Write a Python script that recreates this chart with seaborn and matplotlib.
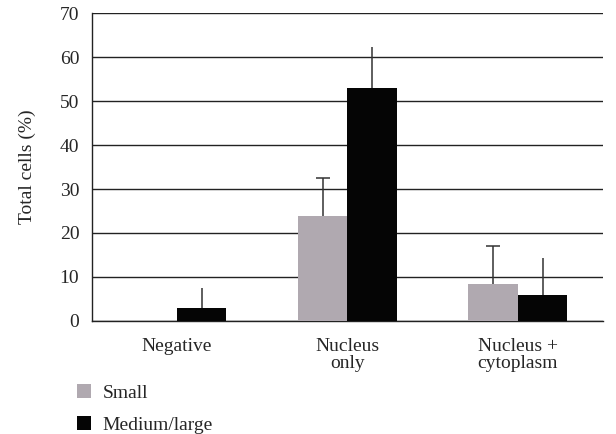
import pandas as pd
import numpy as np
import matplotlib
matplotlib.use("Agg")
import matplotlib.pyplot as plt
import seaborn as sns
from matplotlib.patches import Patch

# Values
categories = ["Negative", "Nucleus\nonly", "Nucleus +\ncytoplasm"]
sizes = ["Small", "Medium/large"]
small_vals = [0.0, 23.8, 8.5]
small_err = [0.0, 8.8, 8.5]
medium_vals = [3.0, 53.0, 6.0]
medium_err = [4.5, 9.2, 8.3]

colors = ["#b0a9b0", "#050505"]

df = pd.DataFrame({
    "category": categories * 2,
    "size": [sizes[0]] * 3 + [sizes[1]] * 3,
    "value": small_vals + medium_vals,
})

sns.set_style("white")
plt.rcParams["font.family"] = ["Liberation Serif", "DejaVu Serif"]
plt.rcParams["font.size"] = 14

fig = plt.figure(figsize=(6.16, 4.34), dpi=100)
ax = fig.add_axes([0.149, 0.2604, 0.830, 0.7096])

sns.barplot(data=df, x="category", y="value", hue="size", palette=colors,
            width=0.58, gap=0, saturation=1, errorbar=None, legend=False,
            linewidth=0, ax=ax, zorder=3)

# one-sided error bars: small ones have caps, medium/large ones don't
errs = [small_err, medium_err]
caps = [5, 0]
for cont, err, cap in zip(ax.containers, errs, caps):
    for bar, e in zip(cont, err):
        if e <= 0:
            continue
        xc = bar.get_x() + bar.get_width() / 2
        h = bar.get_height()
        eb = ax.errorbar(xc, h, yerr=[[0], [e]], fmt="none", ecolor="#333333",
                         elinewidth=1.1, capsize=cap, capthick=1.1, zorder=2)
        if cap:
            eb[1][0].set_visible(False)  # no cap on the lower end

ax.set_ylim(0, 70)
ax.set_xlim(-0.5, 2.5)
ax.set_yticks(range(0, 71, 10))
ax.yaxis.grid(True, color="#222222", linewidth=1)
ax.set_axisbelow(True)

ax.set_xlabel("")
ax.set_ylabel("Total cells (%)", fontsize=14, labelpad=17)
ax.tick_params(axis="x", length=0, pad=12, labelsize=14)
ax.set_xticks([0.5, 1.5, 2.5], minor=True)
ax.tick_params(axis="x", which="minor", length=6, width=1, color="#222222", direction="out")
ax.tick_params(axis="y", length=6, width=1, color="#222222", direction="out", pad=3, labelsize=14)
for lab in ax.get_xticklabels():
    lab.set_linespacing(1.0)

for s in ["top", "right"]:
    ax.spines[s].set_visible(False)
for s in ["left", "bottom"]:
    ax.spines[s].set_color("#222222")
    ax.spines[s].set_linewidth(1)

handles = [Patch(facecolor=c, edgecolor="none") for c in colors]
fig.legend(handles, sizes, loc="lower left", bbox_to_anchor=(0.108, -0.025),
           frameon=False, fontsize=14, handlelength=0.7, handleheight=0.75,
           handletextpad=0.6, labelspacing=0.75, borderaxespad=0.15)

fig.savefig("out.png", dpi=100)
